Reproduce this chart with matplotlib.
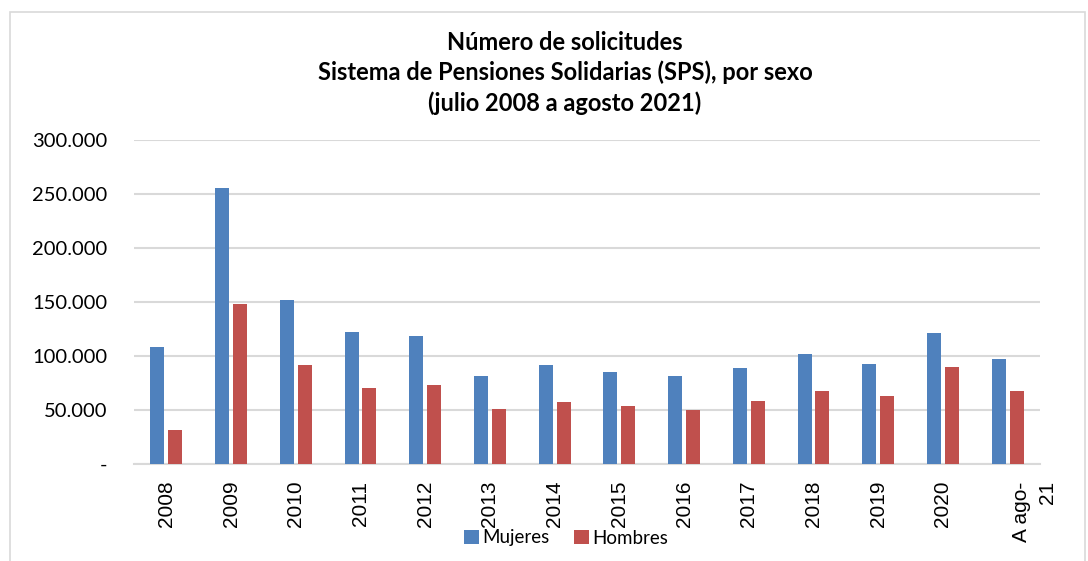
import matplotlib.pyplot as plt
import numpy as np
from matplotlib.patches import Rectangle

# Data
years = ['2008', '2009', '2010', '2011', '2012', '2013', '2014',
         '2015', '2016', '2017', '2018', '2019', '2020', 'A ago-\n21']
mujeres = [108000, 255800, 152100, 122500, 118200, 81500, 92000,
           85500, 81800, 89200, 101800, 92300, 121600, 96900]
hombres = [31500, 147800, 92000, 70700, 72800, 51200, 57700,
           53700, 49700, 58600, 67900, 63000, 90100, 67600]
yticks = [0, 50000, 100000, 150000, 200000, 250000, 300000]
ytick_labels = ['-', '50.000', '100.000', '150.000', '200.000', '250.000', '300.000']

blue = '#4F81BD'
red = '#C0504D'
grid_col = '#D9D9D9'

W, H = 1088, 561
fig = plt.figure(figsize=(W / 100, H / 100), dpi=100)
ax = fig.add_axes([134 / W, 1 - 464 / H, (1040 - 134) / W, (464 - 140) / H])

x = np.arange(len(years))
bw = 0.216
off = 0.138
ax.bar(x - off, mujeres, bw, color=blue, label='Mujeres', zorder=3)
ax.bar(x + off, hombres, bw, color=red, label='Hombres', zorder=3)

ax.set_xlim(-0.5, len(years) - 0.5)
ax.set_ylim(0, 300000)
ax.set_yticks(yticks)
ax.set_yticklabels(ytick_labels, fontfamily='Lato', fontsize=14.5)
ax.set_xticks(x)
# last label is placed by hand (Excel shifts the two-line label)
ax.set_xticklabels(years[:-1] + [''], rotation=90, fontfamily='Liberation Sans',
                   fontsize=15)
ax.annotate(years[-1], xy=(x[-1], 0), xycoords=('data', 'axes fraction'),
            xytext=(19.5, -12.5), textcoords='offset points',
            rotation=90, ha='center', va='top', multialignment='right',
            fontfamily='Liberation Sans', fontsize=15, linespacing=1.45)
ax.tick_params(axis='both', length=0)
ax.tick_params(axis='y', pad=19)
ax.tick_params(axis='x', pad=12)

ax.yaxis.grid(True, color=grid_col, linewidth=1.5, zorder=0)
for s in ['top', 'right', 'left']:
    ax.spines[s].set_visible(False)
ax.spines['bottom'].set_color(grid_col)
ax.spines['bottom'].set_linewidth(1.5)

# Title
fig.text(565 / W, 1 - 73 / H,
         'Número de solicitudes\nSistema de Pensiones Solidarias (SPS), por sexo\n(julio 2008 a agosto 2021)',
         ha='center', va='center', fontfamily='Lato', fontweight='bold',
         fontsize=17, linespacing=1.33)

# Legend
fig.legend(loc='center', bbox_to_anchor=(566 / W, 1 - 538 / H), ncol=2,
           frameon=False, prop={'family': 'Lato', 'size': 13.5},
           handlelength=0.8, handleheight=0.8, handletextpad=0.2,
           columnspacing=1.3, borderpad=0)

# Chart border
fig.patches.append(Rectangle((10 / W, -0.05), (1085 - 10) / W, 1.05 - 12 / H,
                             transform=fig.transFigure, fill=False,
                             edgecolor=grid_col, linewidth=1.2))

plt.savefig('out.png', dpi=100)
